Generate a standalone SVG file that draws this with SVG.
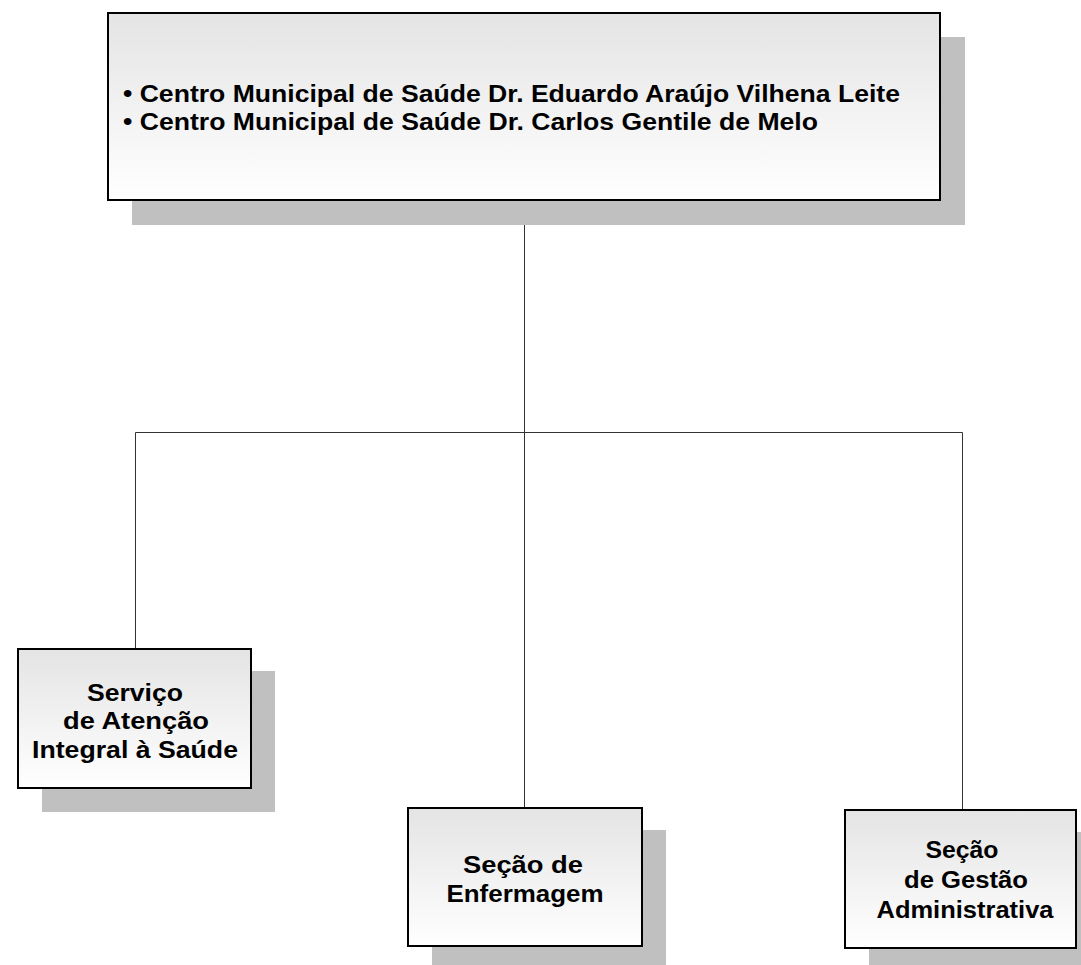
<svg xmlns="http://www.w3.org/2000/svg" width="1081" height="965" viewBox="0 0 1081 965">
<style>
.shadow{fill:#c0c0c0;stroke:none}
.box{fill:url(#g);stroke:#000;stroke-width:2}
.t{font-family:"Liberation Sans",Arial,sans-serif;font-weight:bold;font-size:23px;fill:#000}
.c{text-anchor:middle}
.conn{stroke:#333;stroke-width:1;fill:none}
</style>
<defs>
<linearGradient id="g" x1="0" y1="0" x2="0" y2="1">
<stop offset="0" stop-color="#e4e4e4"/>
<stop offset="1" stop-color="#ffffff"/>
</linearGradient>
</defs>
<rect width="1081" height="965" fill="#fff"/>
<g id="connectors">
<path class="conn" d="M524.5 200 V432.5 M135.5 432.5 H962.5 M135.5 432.5 V649 M524.5 432.5 V808 M962.5 432.5 V810"/>
</g>
<g id="top">
<rect class="shadow" x="132" y="37" width="833" height="188"/>
<rect class="box" x="108" y="13" width="832" height="187"/>
<text class="t" x="123" y="102" textLength="777" lengthAdjust="spacingAndGlyphs">• Centro Municipal de Saúde Dr. Eduardo Araújo Vilhena Leite</text>
<text class="t" x="123" y="130" textLength="695" lengthAdjust="spacingAndGlyphs">• Centro Municipal de Saúde Dr. Carlos Gentile de Melo</text>
</g>
<g id="servico">
<rect class="shadow" x="42" y="671" width="233" height="141"/>
<rect class="box" x="18" y="649" width="233" height="139"/>
<text class="t c" x="135" y="701" textLength="96" lengthAdjust="spacingAndGlyphs">Serviço</text>
<text class="t c" x="136" y="729" textLength="146" lengthAdjust="spacingAndGlyphs">de Atenção</text>
<text class="t c" x="135" y="758" textLength="206" lengthAdjust="spacingAndGlyphs">Integral à Saúde</text>
</g>
<g id="enfermagem">
<rect class="shadow" x="432" y="830" width="234" height="135"/>
<rect class="box" x="408" y="808" width="234" height="138"/>
<text class="t c" x="523" y="873" textLength="120" lengthAdjust="spacingAndGlyphs">Seção de</text>
<text class="t c" x="525" y="902" textLength="157" lengthAdjust="spacingAndGlyphs">Enfermagem</text>
</g>
<g id="gestao">
<rect class="shadow" x="869" y="832" width="212" height="133"/>
<rect class="box" x="845" y="810" width="231" height="138"/>
<text class="t c" x="962" y="858" textLength="73" lengthAdjust="spacingAndGlyphs">Seção</text>
<text class="t c" x="966" y="888" textLength="124" lengthAdjust="spacingAndGlyphs">de Gestão</text>
<text class="t c" x="965" y="918" textLength="177" lengthAdjust="spacingAndGlyphs">Administrativa</text>
</g>
</svg>
